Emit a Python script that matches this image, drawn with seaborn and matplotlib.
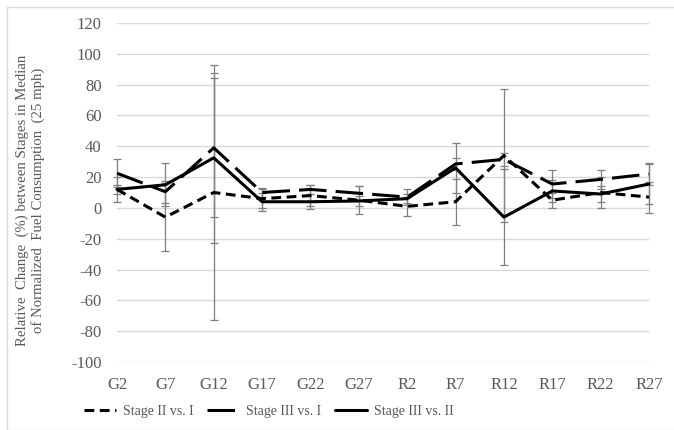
import matplotlib
matplotlib.use("Agg")
import matplotlib.pyplot as plt
import seaborn as sns
import pandas as pd
from matplotlib.patches import Rectangle

sites = ["G2", "G7", "G12", "G17", "G22", "G27", "R2", "R7", "R12", "R17", "R22", "R27"]

# relative change (%) per site
stage2_vs_1 = [12, -6, 10, 6, 8, 5, 1, 4, 34, 5, 10, 7]
stage3_vs_1 = [22.5, 10.5, 39, 10, 12, 9.5, 7, 28.5, 31.5, 15.5, 18.5, 22]
stage3_vs_2 = [12, 15, 32.5, 4, 4, 4.5, 6, 26, -6, 11, 9, 15.5]

# error bar half-widths
err2_vs_1 = [3, 22, 83, 6, 7, 9, 6, 15, 43, 5, 10, 10]
err3_vs_1 = [9, 7, 45, 3, 3, 4.5, 5, 4, 4, 9, 6, 7]
err3_vs_2 = [8, 14, 55, 6, 5, 3, 3, 16, 31, 7, 5, 13]

series = ["Stage II vs. I", "Stage III vs. I", "Stage III vs. II"]
values = [stage2_vs_1, stage3_vs_1, stage3_vs_2]
errors = [err2_vs_1, err3_vs_1, err3_vs_2]

rows = []
for name, vals in zip(series, values):
    for i, v in enumerate(vals):
        rows.append({"pos": i, "site": sites[i], "series": name, "change": v})
df = pd.DataFrame(rows)

sns.set_style("white")
plt.rcParams["font.family"] = ["Liberation Serif", "DejaVu Serif"]
plt.rcParams["axes.unicode_minus"] = False
grey_txt = "#595959"

fig = plt.figure(figsize=(6.74, 4.30), dpi=100)
ax = fig.add_axes([117 / 674, 1 - 362 / 430, 532 / 674, 339 / 430])

# error bars first, under the lines
for vals, errs in zip(values, errors):
    ax.errorbar(range(len(sites)), vals, yerr=errs, fmt="none", ecolor="#7f7f7f",
                elinewidth=0.9, capsize=3, capthick=0.9, zorder=2, clip_on=False)

sns.lineplot(data=df, x="pos", y="change", style="series", color="black",
             dashes={"Stage II vs. I": (3.2, 1.8), "Stage III vs. I": (9, 3),
                     "Stage III vs. II": ""},
             linewidth=2.2, ax=ax, legend=True, zorder=3, clip_on=False)

ax.set_xlim(0, len(sites) - 1)
ax.set_ylim(-100, 120)
ax.set_yticks(range(-100, 121, 20))
ax.set_xticks(range(len(sites)))
ax.set_xticklabels(sites)
ax.tick_params(axis="both", length=0, labelsize=12, labelcolor=grey_txt)
ax.tick_params(axis="x", pad=11)
ax.tick_params(axis="y", pad=11)
ax.yaxis.grid(True, color="#d9d9d9", linewidth=1)
ax.xaxis.grid(False)
for s in ax.spines.values():
    s.set_visible(False)
ax.set_xlabel("")
ax.set_ylabel("")

fig.text(30 / 674, 1 - 200 / 430,
         "Relative  Change  (%) between Stages in Median\nof Normalized  Fuel Consumption  (25 mph)",
         rotation=90, ha="center", va="center", multialignment="center",
         fontsize=10.6, color=grey_txt, linespacing=1.2)

handles, labels = ax.get_legend_handles_labels()
ax.legend_.remove()
fig.legend(handles, labels, loc="center", bbox_to_anchor=(269 / 674, 1 - 411 / 430),
           ncol=3, frameon=False, fontsize=10, labelcolor=grey_txt,
           handlelength=2.3, columnspacing=1.0, handletextpad=0.5)

fig.patches.append(Rectangle((7 / 674, 0), 1, 1 - 7 / 430, transform=fig.transFigure,
                             fill=False, edgecolor="#d9d9d9", linewidth=1))

fig.savefig("out.png", dpi=100)
